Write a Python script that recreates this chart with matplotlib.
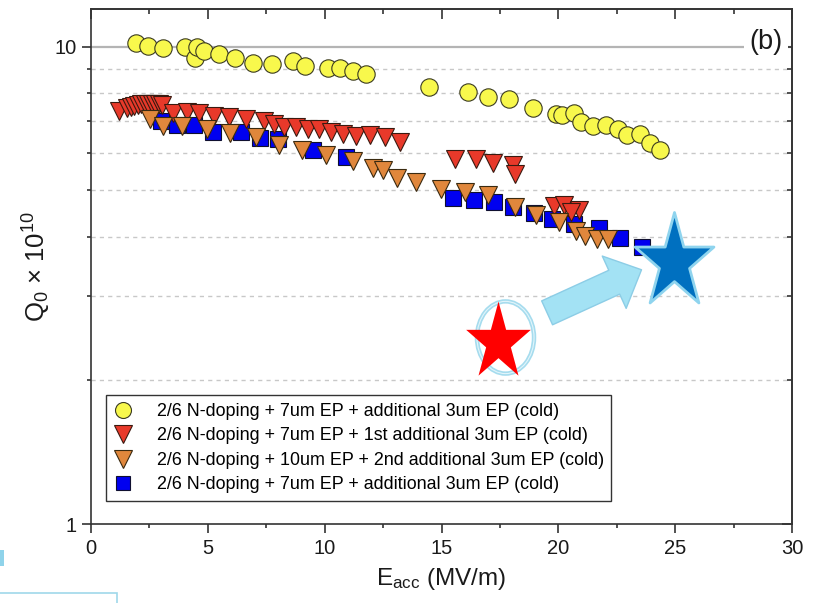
import matplotlib
matplotlib.use('Agg')
import matplotlib.pyplot as plt
import matplotlib.patches as mpatches
from matplotlib.path import Path
from matplotlib.transforms import Affine2D
from matplotlib.ticker import FixedLocator, NullFormatter, MultipleLocator, FixedFormatter
from matplotlib.lines import Line2D

plt.rcParams['font.family'] = ['Liberation Sans', 'DejaVu Sans']
plt.rcParams['mathtext.fontset'] = 'custom'
plt.rcParams['mathtext.rm'] = 'Liberation Sans'
plt.rcParams['mathtext.it'] = 'Liberation Sans:italic'

# ---------------- data ----------------
labels = [
    "2/6 N-doping + 7um EP + additional 3um EP (cold)",
    "2/6 N-doping + 7um EP + 1st additional 3um EP (cold)",
    "2/6 N-doping + 10um EP + 2nd additional 3um EP (cold)",
    "2/6 N-doping + 7um EP + additional 3um EP (cold)",
]

yellow_x = [1.92, 2.45, 3.08, 4.02, 4.43, 4.54, 4.82, 5.46, 6.17, 6.92, 7.75, 8.64, 9.17,
            10.13, 10.67, 11.23, 11.79, 14.48, 16.15, 17.0, 17.9, 18.9, 19.9, 20.16, 20.66,
            20.99, 21.47, 22.05, 22.55, 22.95, 23.48, 23.92, 24.35]
yellow_q = [10.2, 10.06, 9.92, 10.0, 9.48, 10.0, 9.82, 9.66, 9.49, 9.24, 9.21, 9.33, 9.13,
            9.04, 9.02, 8.89, 8.77, 8.25, 8.04, 7.84, 7.76, 7.46, 7.22, 7.19, 7.25,
            6.95, 6.83, 6.86, 6.74, 6.52, 6.56, 6.29, 6.07]

red_x = [1.2, 1.55, 1.7, 1.85, 2.0, 2.15, 2.3, 2.45, 2.6, 2.75, 2.9, 3.05,
         3.49, 4.1, 4.64, 5.28, 5.9, 6.64, 7.42, 7.85, 8.28, 8.76, 9.28, 9.76,
         10.29, 10.79, 11.36, 11.93, 12.58, 13.22, 15.58, 16.48, 17.2, 18.08, 18.15,
         19.8, 20.23, 20.87, 20.55]
red_q = [7.34, 7.45, 7.48, 7.52, 7.55, 7.57, 7.58, 7.6, 7.6, 7.6, 7.58, 7.56,
         7.25, 7.3, 7.27, 7.17, 7.11, 7.05, 6.99, 6.88, 6.8, 6.8, 6.72, 6.71,
         6.63, 6.58, 6.5, 6.53, 6.47, 6.32, 5.81, 5.81, 5.71, 5.64, 5.42,
         4.63, 4.66, 4.56, 4.5]

orange_x = [2.52, 3.09, 3.88, 4.95, 5.97, 7.07, 8.04, 9.01, 10.04, 11.21, 12.05, 12.5,
            13.1, 13.93, 14.96, 16.0, 16.97, 18.15, 19.06, 20.01, 20.76, 21.16, 21.66, 22.12]
orange_q = [7.05, 6.82, 6.82, 6.72, 6.6, 6.47, 6.22, 6.07, 5.92, 5.76, 5.58, 5.53,
            5.32, 5.2, 5.04, 4.96, 4.88, 4.61, 4.45, 4.29, 4.12, 4.02, 3.96, 3.96]

blue_x = [3.0, 3.7, 4.4, 5.21, 6.42, 7.25, 7.99, 9.48, 10.9, 15.51, 16.37, 17.25,
          18.05, 18.94, 19.73, 20.66, 21.73, 22.66, 23.59]
blue_q = [7.0, 6.85, 6.85, 6.63, 6.63, 6.45, 6.4, 6.07, 5.88, 4.82, 4.78, 4.74,
          4.61, 4.48, 4.36, 4.25, 4.18, 3.98, 3.80]

# annotation marks (data coordinates)
red_star = (17.40, 2.41)
blue_star = (24.95, 3.54)
ring = (17.72, 2.46)
arrow_tail = (19.52, 2.77)
arrow_tip = (23.56, 3.41)

x_ticks = [0, 5, 10, 15, 20, 25, 30]
y_major = [1, 10]
y_minor = [2, 3, 4, 5, 6, 7, 8, 9]

# ---------------- figure ----------------
fig = plt.figure(figsize=(8.13, 6.03), dpi=100)
ax = fig.add_axes([91 / 813, 1 - 524 / 603, 701 / 813, 515 / 603])
ax.set_yscale('log')
ax.set_xlim(0, 30)
ax.set_ylim(1, 12.0)

# grid lines
for v in y_minor:
    ax.axhline(v, color='#c8c8c8', lw=1.0, dashes=(3, 3), zorder=0)
ax.axhline(10, color='#b4b4b4', lw=1.6, zorder=0)

c_yel, c_red, c_ora, c_blu = '#f8f84c', '#e8392a', '#e0873c', '#0000f0'
mk = dict(linestyle='none', markeredgewidth=0.8)
ax.plot(yellow_x, yellow_q, marker='o', ms=12.5, mfc=c_yel, mec='#3a3a20', zorder=3, **mk)
ax.plot(blue_x, blue_q, marker='s', ms=11, mfc=c_blu, mec='#101030', zorder=3, **mk)
ax.plot(red_x, red_q, marker='v', ms=13, mfc=c_red, mec='#3a1a10', zorder=4, **mk)
ax.plot(orange_x, orange_q, marker='v', ms=13, mfc=c_ora, mec='#3a2a10', zorder=5, **mk)

# stretched star & ellipse markers
star_path = Path.unit_regular_star(5, 0.381966).transformed(Affine2D().scale(0.83, 1.0))
ell_path = Path.unit_circle().transformed(Affine2D().scale(0.79, 1.0))

ax.plot([ring[0]], [ring[1]], marker=ell_path, ms=52, mfc='none', mec='#a6dcee', mew=3.2,
        linestyle='none', zorder=6)
ax.plot([ring[0]], [ring[1]], marker=ell_path, ms=52, mfc='none', mec='#e2f5fb', mew=0.8,
        linestyle='none', zorder=6)
ax.plot([red_star[0]], [red_star[1]], marker=star_path, ms=59, mfc='#ff0000', mec='none',
        linestyle='none', zorder=7)
ax.annotate('', xy=arrow_tip, xytext=arrow_tail,
            arrowprops=dict(arrowstyle='simple,head_length=1.2,head_width=2.3,tail_width=1.05',
                            mutation_scale=18, fc='#a3e2f4', ec='#8ccde6', lw=1.0,
                            shrinkA=0, shrinkB=0), zorder=7)
ax.plot([blue_star[0]], [blue_star[1]], marker=star_path, ms=72, mfc='#0070c0', mec='#8fd4ee',
        mew=2.0, linestyle='none', zorder=8)

# ticks
spc = '#333333'
for s in ax.spines.values():
    s.set_color(spc)
    s.set_linewidth(1.2)
ax.xaxis.set_major_locator(FixedLocator(x_ticks))
ax.xaxis.set_minor_locator(MultipleLocator(2.5))
ax.yaxis.set_major_locator(FixedLocator(y_major))
ax.yaxis.set_major_formatter(FixedFormatter([str(v) for v in y_major]))
ax.yaxis.set_minor_locator(FixedLocator(y_minor))
ax.yaxis.set_minor_formatter(NullFormatter())
ax.tick_params(which='both', direction='out', color=spc, labelsize=14.5, labelcolor='#1a1a1a',
               top=False, right=False, width=1.2)
ax.tick_params(which='major', length=6.5, pad=4)
ax.tick_params(which='minor', length=3.2)

secx = ax.secondary_xaxis('top')
secx.xaxis.set_major_locator(FixedLocator(x_ticks))
secx.xaxis.set_minor_locator(MultipleLocator(2.5))
secx.tick_params(which='both', direction='in', color=spc, labeltop=False, width=1.2)
secx.tick_params(which='major', length=7)
secx.tick_params(which='minor', length=3.6)
secx.spines['top'].set_color(spc)
secx.spines['top'].set_linewidth(1.2)

secy = ax.secondary_yaxis('right')
secy.yaxis.set_major_locator(FixedLocator(y_major))
secy.yaxis.set_minor_locator(FixedLocator(y_minor))
secy.yaxis.set_minor_formatter(NullFormatter())
secy.tick_params(which='both', direction='in', color=spc, labelright=False, width=1.2)
secy.tick_params(which='major', length=7)
secy.tick_params(which='minor', length=3.6)
secy.spines['right'].set_color(spc)
secy.spines['right'].set_linewidth(1.2)

ax.set_xlabel('E$_{\\mathrm{acc}}$ (MV/m)', fontsize=17.5, labelpad=6, color='#1a1a1a')
ax.set_ylabel('Q$_0$ × 10$^{10}$', fontsize=18.5, labelpad=0.5, color='#1a1a1a')

ax.text(0.963, 0.935, '(b)', transform=ax.transAxes, fontsize=19.5, ha='center', va='center',
        color='#1a1a1a', zorder=9,
        bbox=dict(boxstyle='square,pad=0.2', fc='white', ec='none'))

# legend
handles = [
    Line2D([], [], marker='o', ms=11.5, mfc=c_yel, mec='#3a3a20', mew=0.8, linestyle='none'),
    Line2D([], [], marker='v', ms=12.5, mfc=c_red, mec='#3a1a10', mew=0.8, linestyle='none'),
    Line2D([], [], marker='v', ms=12.5, mfc=c_ora, mec='#3a2a10', mew=0.8, linestyle='none'),
    Line2D([], [], marker='s', ms=10, mfc=c_blu, mec='#101030', mew=0.8, linestyle='none'),
]
leg = ax.legend(handles, labels, loc='lower left', bbox_to_anchor=(0.0214, 0.0447),
                borderaxespad=0, fontsize=12.9, frameon=True, fancybox=False, framealpha=1,
                edgecolor='#333333', handlelength=1.1, handletextpad=1.3, labelspacing=0.42,
                borderpad=0.42)
leg.get_frame().set_linewidth(1.0)
leg.set_zorder(10)

# slide decorations outside the plot
fig.patches.append(mpatches.Rectangle((0, 1 - 566 / 603), 4 / 813, 16 / 603,
                                      transform=fig.transFigure, fc='#8fd3ea', ec='none'))
fig.patches.append(mpatches.Rectangle((-0.01, -0.05), 117 / 813 + 0.01, 10 / 603 + 0.05,
                                      transform=fig.transFigure, fill=False, ec='#9fd8ea', lw=1.2))

fig.savefig('out.png', dpi=100)
